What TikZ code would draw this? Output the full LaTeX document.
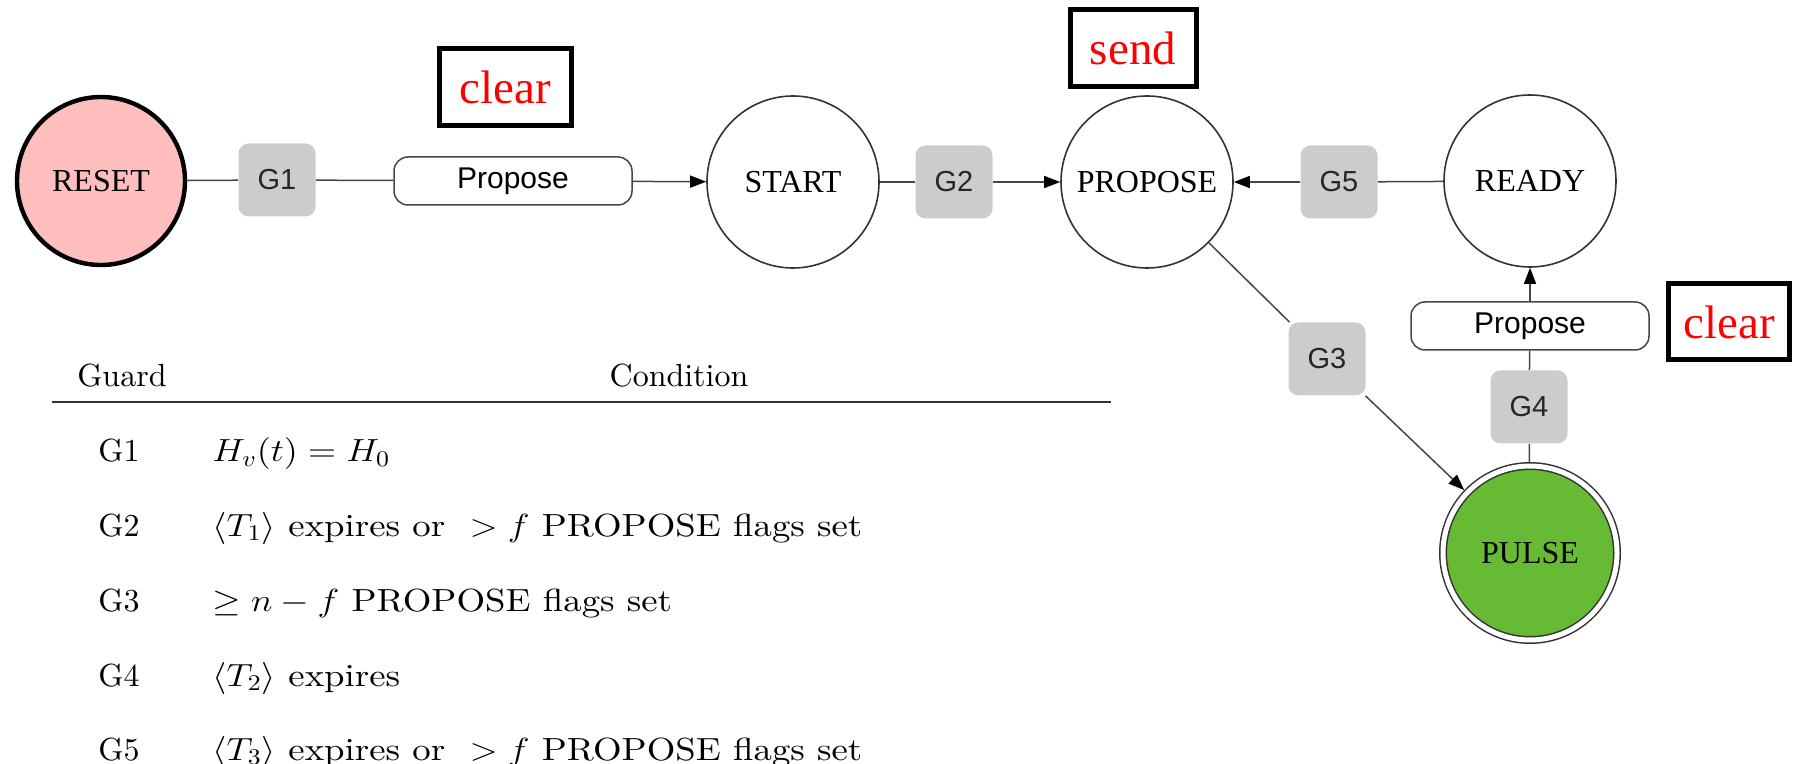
\documentclass[tikz,border=0pt]{standalone}
\usepackage{fix-cm}
\usepackage{fontspec}
\setmainfont{Latin Modern Roman}
\newfontfamily\tabrm{lmroman10-regular.otf}
\newfontfamily\stateserif{Liberation Serif}
\newfontfamily\guardsans{Liberation Sans}
\usetikzlibrary{arrows.meta}
\definecolor{resetpink}{RGB}{255,190,190}
\definecolor{pulsegreen}{RGB}{103,186,52}
\definecolor{guardgray}{RGB}{204,204,204}
\definecolor{linegray}{RGB}{70,70,70}
% conditions are set a little wider than the guard column
\newcommand{\condtext}[1]{\scalebox{1.15}[1]{#1}}
\tikzset{
  state/.style={circle, draw=black!80, line width=0.8pt, fill=white,
    minimum size=86pt, inner sep=0pt,
    font=\stateserif\fontsize{16}{18}\selectfont},
  guardbox/.style={rectangle, rounded corners=5pt, fill=guardgray,
    minimum width=38.5pt, minimum height=36.5pt, inner sep=0pt,
    text=black!85, font=\guardsans\fontsize{14.5}{16}\selectfont},
  actionbox/.style={rectangle, rounded corners=7pt, draw=linegray,
    line width=0.75pt, fill=white, minimum width=119pt, minimum height=24pt,
    inner sep=0pt, font=\guardsans\fontsize{15}{17}\selectfont},
  notebox/.style={rectangle, draw=black, line width=2.5pt, fill=white,
    minimum height=38.5pt, inner sep=0pt, text=red,
    font=\stateserif\fontsize{23.5}{26}\selectfont},
  conn/.style={draw=linegray, line width=0.75pt},
  flow/.style={conn, -{Triangle[length=8pt,width=6pt,color=black]}},
  tabtext/.style={anchor=base west, inner sep=0pt,
    font=\tabrm\fontsize{16}{19}\selectfont},
  tabhead/.style={anchor=base, inner sep=0pt,
    font=\tabrm\fontsize{16}{19}\selectfont},
}
\begin{document}
\begin{tikzpicture}[x=0.5pt, y=-0.5pt]
  \useasboundingbox (0,0) rectangle (1799,764);

  % states
  \node[state, draw=black, fill=resetpink, line width=2.2pt, minimum size=84pt] (reset) at (101,181) {RESET};
  \node[state] (start) at (793,182) {START};
  \node[state] (propose) at (1147,182) {PROPOSE};
  \node[state] (ready) at (1530,181) {READY};
  \node[state, fill=pulsegreen, double=white, double distance=2.5pt,
        line width=0.75pt, minimum size=87pt, outer sep=2pt] (pulse) at (1530,553) {PULSE};

  % guards
  \node[guardbox] (g1) at (277,180) {G1};
  \node[guardbox] (g2) at (954,182) {G2};
  \node[guardbox] (g3) at (1327,359) {G3};
  \node[guardbox] (g4) at (1529,407) {G4};
  \node[guardbox] (g5) at (1339,182) {G5};

  % actions
  \node[actionbox] (act1) at (513,181) {Propose};
  \node[actionbox] (act2) at (1530,326) {Propose};

  % transitions
  \draw[conn] (reset) -- (g1);
  \draw[conn] (g1) -- (act1);
  \draw[flow] (act1) -- (start);
  \draw[conn] (start) -- (g2);
  \draw[flow] (g2) -- (propose);
  \draw[conn] (ready) -- (g5);
  \draw[flow] (g5) -- (propose);
  \draw[conn] (propose) -- (g3);
  \draw[flow] (g3) -- (pulse);
  \draw[conn] (pulse) -- (g4);
  \draw[conn] (g4) -- (act2);
  \draw[flow] (act2) -- (ready);

  % message notes
  \node[notebox, minimum width=66pt] (noteclearA) at (505,87) {clear};
  \node[notebox, minimum width=63pt] (notesend) at (1133,48) {send};
  \node[notebox, minimum width=60.5pt, minimum height=38pt] (noteclearB) at (1729,322) {clear};

  % guard table
  \node[tabhead] (hguard) at (122,387) {Guard};
  \node[tabhead] (hcond) at (679,387) {Condition};
  \coordinate (ruleL) at (52,402);
  \coordinate (ruleR) at (1111,402);
  \draw[line width=1.2pt, black!80] (ruleL) -- (ruleR);

  \node[tabtext] (r1g) at (98,462) {G1};
  \node[tabtext] (r1c) at (212,462) {\condtext{$H_v(t) = H_0$}};
  \node[tabtext] (r2g) at (98,536) {G2};
  \node[tabtext] (r2c) at (212,536) {\condtext{$\langle T_1\rangle$ expires or \ $>f$ PROPOSE flags set}};
  \node[tabtext] (r3g) at (98,611) {G3};
  \node[tabtext] (r3c) at (212,611) {\condtext{$\geq n-f$ PROPOSE flags set}};
  \node[tabtext] (r4g) at (98,686) {G4};
  \node[tabtext] (r4c) at (212,686) {\condtext{$\langle T_2\rangle$ expires}};
  \node[tabtext] (r5g) at (98,760) {G5};
  \node[tabtext] (r5c) at (212,760) {\condtext{$\langle T_3\rangle$ expires or \ $>f$ PROPOSE flags set}};
\end{tikzpicture}
\end{document}
